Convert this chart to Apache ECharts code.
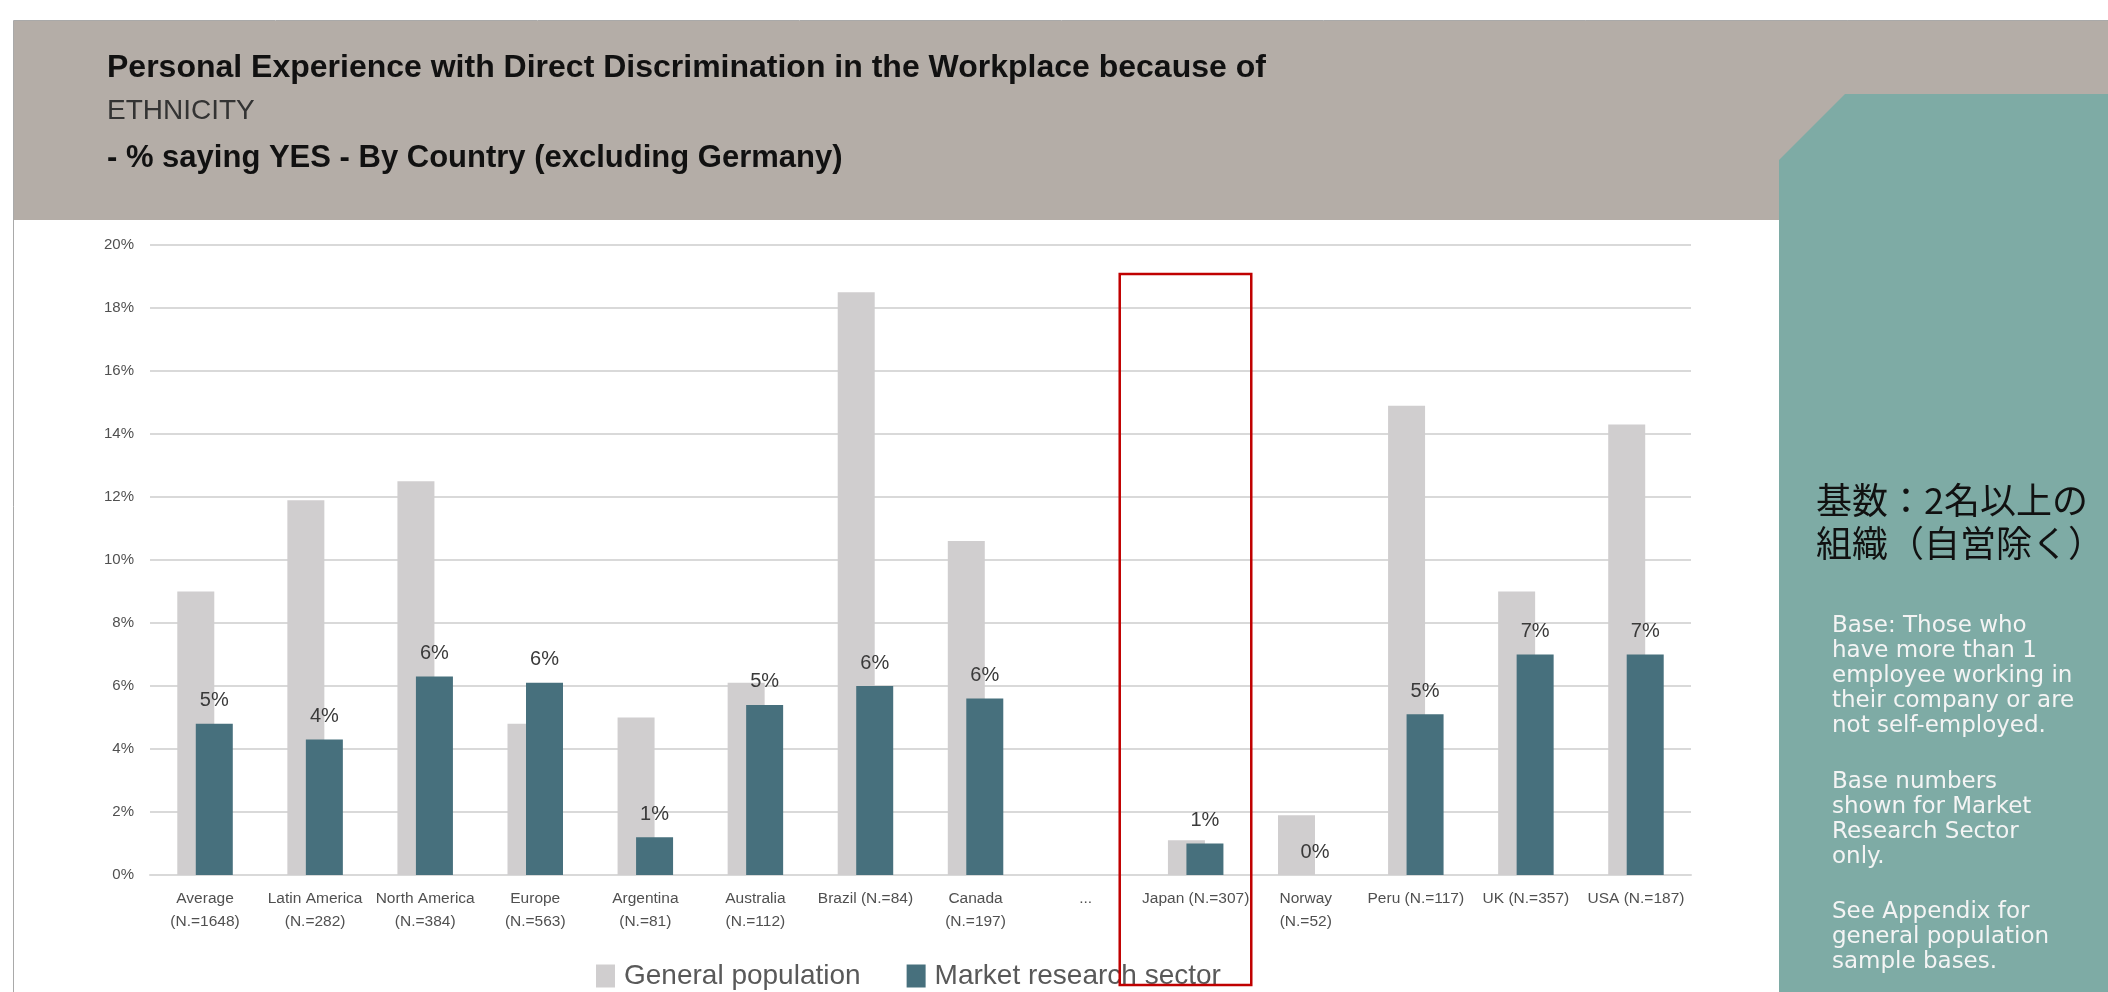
<!DOCTYPE html>
<html>
<head>
<meta charset="utf-8">
<script src="https://cdn.jsdelivr.net/npm/echarts@6/dist/echarts.min.js"></script>
<style>
  html, body { margin: 0; padding: 0; background: #ffffff; }
  #chart { width: 2108px; height: 992px; }
</style>
</head>
<body>
<div id="chart"></div>
<script>
// Countries / regions, with the Market Research base size under each name
const categories = [
  'Average\n(N.=1648)', 'Latin America\n(N.=282)', 'North America\n(N.=384)',
  'Europe\n(N.=563)', 'Argentina\n(N.=81)', 'Australia\n(N.=112)',
  'Brazil (N.=84)', 'Canada\n(N.=197)', '...', 'Japan (N.=307)',
  'Norway\n(N.=52)', 'Peru (N.=117)', 'UK (N.=357)', 'USA (N.=187)'
];

// % saying YES
const generalPopulation = [9.0, 11.9, 12.5, 4.8, 5.0, 6.1, 18.5, 10.6, null, 1.1, 1.9, 14.9, 9.0, 14.3];
const marketResearch    = [4.8, 4.3, 6.3, 6.1, 1.2, 5.4, 6.0, 5.6, null, 1.0, 0.0, 5.1, 7.0, 7.0];

const seriesNames = ['General population', 'Market research sector'];
const yTicks = { min: 0, max: 20, step: 2 };

const titleLines = [
  'Personal Experience with Direct Discrimination in the Workplace because of',
  'ETHNICITY',
  '- % saying YES - By Country (excluding Germany)'
];
const sideNoteJa = '基数：2名以上の\n組織（自営除く）';
const sideNotes = [
  'Base: Those who\nhave more than 1\nemployee working in\ntheir company or are\nnot self-employed.',
  'Base numbers\nshown for Market\nResearch Sector\nonly.',
  'See Appendix for\ngeneral population\nsample bases.'
];
const highlightCategory = 'Japan (N.=307)';

const LATIN = "'Liberation Sans', Arial, sans-serif";
const NOTE_FONT = "23px 'DejaVu Sans', Inter, sans-serif";
const GREY_BAR = '#d0cecf';
const TEAL_BAR = '#47707d';

const chart = echarts.init(document.getElementById('chart'), null, { renderer: 'canvas' });

function staticGraphics() {
  return [
    // frame of the slide area
    { id: 'frame', type: 'rect', z: 0, silent: true,
      shape: { x: 13.5, y: 20.5, width: 2200, height: 1100 },
      style: { fill: '#ffffff', stroke: '#a9a9a9', lineWidth: 1 } },
    // header band
    { id: 'header', type: 'rect', z: 1, silent: true,
      shape: { x: 14, y: 21, width: 2100, height: 199 },
      style: { fill: '#b4ada7' } },
    // side panel with clipped corner
    { id: 'panel', type: 'polygon', z: 2, silent: true,
      shape: { points: [[1779, 160], [1845, 94], [2108, 94], [2108, 992], [1779, 992]] },
      style: { fill: '#7eaba5' } },
    { id: 't1', type: 'text', z: 3, x: 107, y: 68,
      style: { text: titleLines[0], font: "bold 32px " + LATIN, fill: '#111111', verticalAlign: 'middle' } },
    { id: 't2', type: 'text', z: 3, x: 107, y: 111,
      style: { text: titleLines[1], font: "28px " + LATIN, fill: '#333333', verticalAlign: 'middle' } },
    { id: 't3', type: 'text', z: 3, x: 107, y: 158,
      style: { text: titleLines[2], font: "bold 31px " + LATIN, fill: '#111111', verticalAlign: 'middle' } },
    { id: 'ja', type: 'text', z: 3, left: 1816, top: 479,
      style: { text: sideNoteJa, font: "36px 'Noto Sans CJK JP'", lineHeight: 43, fill: '#111111' } },
    { id: 'n1', type: 'text', z: 3, left: 1832, top: 614,
      style: { text: sideNotes[0], font: NOTE_FONT, lineHeight: 25, fill: '#f4f4f4' } },
    { id: 'n2', type: 'text', z: 3, left: 1832, top: 770,
      style: { text: sideNotes[1], font: NOTE_FONT, lineHeight: 25, fill: '#f4f4f4' } },
    { id: 'n3', type: 'text', z: 3, left: 1832, top: 900,
      style: { text: sideNotes[2], font: NOTE_FONT, lineHeight: 25, fill: '#f4f4f4' } }
  ];
}

const option = {
  backgroundColor: '#ffffff',
  animation: false,
  graphic: staticGraphics(),
  grid: { left: 150, right: 417, top: 245, bottom: 117 },
  legend: {
    left: 591, top: 957,
    itemWidth: 19, itemHeight: 23, itemGap: 46,
    icon: 'rect',
    data: seriesNames,
    textStyle: { fontFamily: LATIN, fontSize: 28, color: '#595959', padding: [0, 0, 0, 4] }
  },
  xAxis: {
    type: 'category',
    data: categories,
    axisTick: { show: false },
    axisLine: { lineStyle: { color: '#d9d9d9', width: 2 } },
    axisLabel: {
      interval: 0, margin: 12,
      fontFamily: LATIN, fontSize: 15.5, lineHeight: 23, color: '#505050'
    }
  },
  yAxis: {
    type: 'value',
    min: yTicks.min, max: yTicks.max, interval: yTicks.step,
    axisLine: { show: false },
    axisTick: { show: false },
    splitLine: { lineStyle: { color: '#d9d9d9', width: 2 } },
    axisLabel: {
      formatter: '{value}%', margin: 16,
      fontFamily: LATIN, fontSize: 15, color: '#505050'
    }
  },
  series: [
    {
      name: seriesNames[0], type: 'bar', data: generalPopulation,
      barWidth: 37, barGap: '-50%',
      itemStyle: { color: GREY_BAR }
    },
    {
      name: seriesNames[1], type: 'bar', data: marketResearch,
      barWidth: 37, barGap: '-50%',
      itemStyle: { color: TEAL_BAR },
      label: {
        show: true, position: 'top', distance: 13,
        formatter: p => (p.value == null ? '' : Math.round(p.value) + '%'),
        fontFamily: LATIN, fontSize: 20, color: '#3a3a3a'
      }
    }
  ]
};

chart.setOption(option);

// Outline the highlighted country, sized from its category band
const idx = categories.indexOf(highlightCategory);
const cx = chart.convertToPixel({ xAxisIndex: 0 }, idx);
const band = chart.convertToPixel({ xAxisIndex: 0 }, idx + 1) - cx;
const boxLeft = cx - band * 0.69;
const boxWidth = band * 1.195;
const boxTop = 274, boxBottom = 985;
chart.setOption({
  graphic: staticGraphics().concat([{
    id: 'highlight', type: 'rect', z: 10, silent: true,
    shape: { x: boxLeft, y: boxTop, width: boxWidth, height: boxBottom - boxTop },
    style: { fill: 'none', stroke: '#c00000', lineWidth: 2.5 }
  }])
});
</script>
</body>
</html>
